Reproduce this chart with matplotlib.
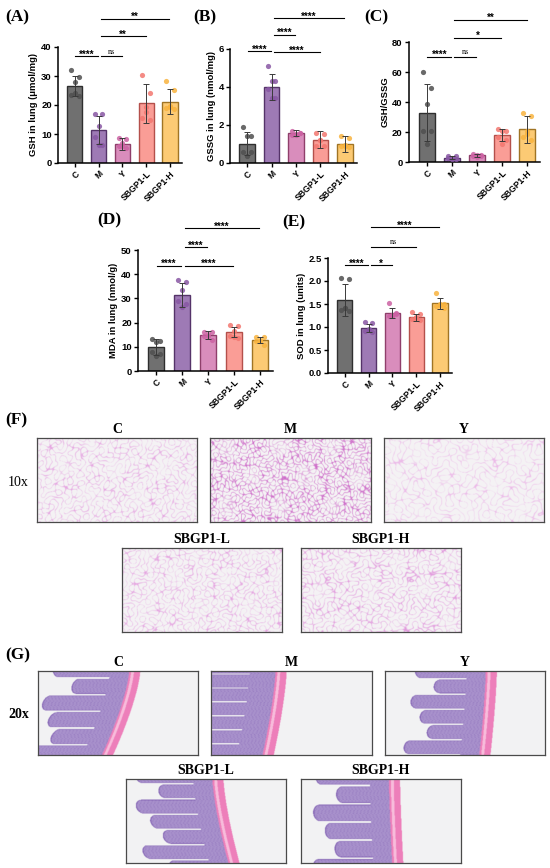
import numpy as np
import matplotlib.pyplot as plt

W, H = 550, 868
fig = plt.figure(figsize=(5.5, 8.68), dpi=100)
SANS = ['Liberation Sans', 'DejaVu Sans']
SERIF = ['Liberation Serif', 'DejaVu Serif']

# ---- Data ----
groups = ['C', 'M', 'Y', 'SBGP1-L', 'SBGP1-H']

gsh_mean = [26.5, 11.4, 6.6, 20.6, 21.1]
gsh_sd = [3.5, 4.9, 2.0, 6.8, 4.3]
gsh_pts = [[32.0, 29.7, 28.0, 23.4, 23.0, 24.0],
           [16.8, 16.8, 12.6, 9.0, 6.3, 6.3],
           [8.6, 8.4, 6.8, 5.7, 5.2, 5.8],
           [30.3, 24.0, 17.7, 15.4, 14.9, 19.4],
           [28.2, 25.0, 19.4, 19.0, 18.5, 19.5]]

gssg_mean = [1.02, 4.0, 1.58, 1.23, 1.0]
gssg_sd = [0.6, 0.7, 0.17, 0.44, 0.44]
gssg_pts = [[1.88, 1.4, 1.4, 0.6, 0.6, 0.35],
            [5.1, 4.3, 4.3, 3.9, 3.4, 3.4],
            [1.7, 1.6, 1.55, 1.5, 1.6, 1.45],
            [1.6, 1.55, 1.2, 0.9, 0.9, 1.2],
            [1.44, 1.3, 0.9, 0.88, 0.85, 0.95]]

ratio_mean = [33.0, 2.9, 4.4, 17.8, 21.8]
ratio_sd = [19.0, 1.0, 1.0, 4.0, 9.0]
ratio_pts = [[60.0, 49.5, 38.4, 20.7, 20.7, 12.2],
             [4.2, 3.8, 3.0, 2.5, 2.0, 2.2],
             [5.2, 5.0, 4.6, 4.2, 3.8, 3.6],
             [21.8, 21.0, 21.0, 17.0, 14.4, 12.0],
             [33.0, 31.0, 21.0, 16.7, 15.0, 19.0]]

mda_mean = [10.0, 31.4, 14.9, 16.0, 12.8]
mda_sd = [3.2, 5.1, 1.6, 2.0, 1.4]
mda_pts = [[13.2, 12.2, 11.8, 8.0, 6.9, 6.2],
           [37.6, 36.6, 33.5, 29.0, 27.5, 26.6],
           [16.3, 16.1, 15.2, 14.5, 12.8, 14.3],
           [19.0, 18.6, 16.5, 14.5, 13.8, 14.2],
           [14.2, 13.9, 13.0, 12.4, 10.7, 12.5]]

sod_mean = [1.59, 0.98, 1.30, 1.21, 1.52]
sod_sd = [0.34, 0.09, 0.11, 0.07, 0.12]
sod_pts = [[2.07, 2.05, 1.41, 1.38, 1.34, 1.42],
           [1.10, 1.09, 0.95, 0.92, 0.90, 0.93],
           [1.52, 1.30, 1.26, 1.24, 1.28, 1.25],
           [1.33, 1.28, 1.22, 1.18, 1.16, 1.20],
           [1.75, 1.50, 1.48, 1.46, 1.42, 1.50]]

# significance: (group i, group j, height, label)
gsh_sig = [(0, 1, 36.8, '****'), (1, 2, 36.8, 'ns'), (1, 3, 43.7, '**'), (1, 4, 49.7, '**')]
gssg_sig = [(0, 1, 5.88, '****'), (1, 2, 6.75, '****'), (1, 3, 5.82, '****'), (1, 4, 7.63, '****')]
ratio_sig = [(0, 1, 70, '****'), (1, 2, 70, 'ns'), (1, 3, 83, '*'), (1, 4, 95, '**')]
mda_sig = [(0, 1, 43.5, '****'), (1, 2, 51.1, '****'), (1, 3, 43.5, '****'), (1, 4, 59, '****')]
sod_sig = [(0, 1, 2.34, '****'), (1, 2, 2.34, '*'), (1, 3, 2.74, 'ns'), (1, 4, 3.17, '****')]

face_colors = ['#707070', '#9e7ab5', '#d98dbc', '#fa9d96', '#fcca74']
edge_colors = ['#2e2e2e', '#553369', '#8f3f6b', '#b4504b', '#a07424']
dot_colors = ['#4f4f4f', '#8857a4', '#cc62a3', '#f37770', '#f8b33e']
jitter = [-0.16, 0.16, 0.0, -0.16, 0.16, 0.0]


def px_axes(x0, y0, x1, y1):
    return fig.add_axes([x0 / W, 1 - y1 / H, (x1 - x0) / W, (y1 - y0) / H])


def bar_panel(box, means, sds, pts, sigs, ymax, ystep, ylabel, fmt='{:g}'):
    ax = px_axes(*box)
    x = np.arange(len(groups))
    ax.bar(x, means, width=0.64, color=face_colors, edgecolor=edge_colors,
           linewidth=1.0, zorder=1)
    for i, p in enumerate(pts):
        ax.scatter(x[i] + np.array(jitter[:len(p)]), p, s=14, color=dot_colors[i],
                   alpha=0.85, linewidths=0, zorder=3)
    ax.errorbar(x, means, yerr=sds, fmt='none', ecolor='#3a3a3a', elinewidth=0.7,
                capsize=2.5, capthick=0.7, zorder=4)
    ax.set_xlim(-0.7, 4.5)
    ax.set_ylim(0, ymax)
    ticks = np.arange(0, ymax + ystep / 2, ystep)
    ax.set_yticks(ticks)
    ax.set_yticklabels([fmt.format(t) for t in ticks], family=SANS,
                       fontweight='bold', fontsize=6.8)
    ax.set_xticks(x)
    ax.set_xticklabels(groups, rotation=45, ha='right', rotation_mode='anchor',
                       family=SANS, fontweight='bold', fontsize=6.2)
    ax.set_ylabel(ylabel, family=SANS, fontweight='bold', fontsize=6.8, labelpad=2)
    for s in ['top', 'right']:
        ax.spines[s].set_visible(False)
    for s in ['left', 'bottom']:
        ax.spines[s].set_linewidth(1.1)
    ax.tick_params(width=1.0, length=3, pad=1.5)
    for i, j, yy, lab in sigs:
        x0 = i + (0.1 if i == 1 else 0.03)
        x1 = j - 0.03
        ax.plot([x0, x1], [yy, yy], color='black', lw=0.8, clip_on=False, zorder=5)
        if lab == 'ns':
            ax.annotate(lab, ((x0 + x1) / 2, yy), xytext=(0, 0.5), textcoords='offset points',
                        ha='center', va='bottom', fontsize=5.8, family=SERIF,
                        annotation_clip=False)
        else:
            ax.annotate(lab, ((x0 + x1) / 2, yy), xytext=(0, -2.4), textcoords='offset points',
                        ha='center', va='bottom', fontsize=7, family=SANS,
                        fontweight='bold', annotation_clip=False)
    return ax


bar_panel((58, 47, 182, 163), gsh_mean, gsh_sd, gsh_pts, gsh_sig, 40, 10,
          'GSH in lung (μmol/mg)')
bar_panel((230, 49, 357, 163), gssg_mean, gssg_sd, gssg_pts, gssg_sig, 6, 2,
          'GSSG in lung (nmol/mg)')
bar_panel((409, 42, 540, 162), ratio_mean, ratio_sd, ratio_pts, ratio_sig, 80, 20,
          'GSH/GSSG')
bar_panel((138, 250, 273, 371), mda_mean, mda_sd, mda_pts, mda_sig, 50, 10,
          'MDA in lung (nmol/g)')
bar_panel((328, 258, 452, 373), sod_mean, sod_sd, sod_pts, sod_sig, 2.5, 0.5,
          'SOD in lung (units)', fmt='{:.1f}')

# panel letters
letters = [('(A)', 5, 17), ('(B)', 193, 17), ('(C)', 364, 17), ('(D)', 97, 220),
           ('(E)', 282, 222), ('(F)', 5, 420), ('(G)', 5, 655)]
for lab, lx, ly in letters:
    fig.text(lx / W, 1 - ly / H, lab, family=SERIF, fontweight='bold', fontsize=12.5,
             va='center', ha='left')


# ---- Histology placeholders (drawn textures) ----
def lung_texture(freq, width, line_rgb, strength, phase):
    h, w = 168, 320
    yy, xx = np.mgrid[0:h, 0:w] / float(w)
    f = np.zeros_like(xx)
    for k in range(9):
        ang = k * 2.39996 + phase
        fk = freq * (0.75 + 0.5 * ((k * 0.618 + phase) % 1))
        f += np.cos(2 * np.pi * fk * (xx * np.cos(ang) + yy * np.sin(ang)) + 1.7 * k + phase)
    m = np.exp(-(f / width) ** 2)
    # larger air spaces carry fewer walls
    big = np.cos(2 * np.pi * 3.1 * xx + phase) * np.cos(2 * np.pi * 2.7 * yy + 2 * phase)
    m = m * (0.6 + 0.4 * (big < 0.5))
    bg = np.array([0.958, 0.95, 0.958])
    col = np.array(line_rgb)
    a = np.clip(m * strength, 0, 1)[..., None]
    return bg * (1 - a) + col * a


def intestine_texture(x_top, x_bot, mucosa, vlen, n_villi, phase):
    h, w = 168, 320
    v, u = np.mgrid[0:h, 0:w].astype(float)
    v /= (h - 1)
    u /= (w - 1)
    xb = x_top + (x_bot - x_top) * v ** 1.4
    bg = np.array([0.95, 0.95, 0.955])
    purple = np.array([0.66, 0.57, 0.80])
    dpurple = np.array([0.54, 0.42, 0.72])
    pink = np.array([0.93, 0.50, 0.73])
    lpink = np.array([0.97, 0.74, 0.86])
    img = np.ones((h, w, 3)) * bg
    ph = n_villi * v + phase
    idx = np.floor(ph + 0.5)
    p = ph - idx                       # -0.5 .. 0.5 across one villus
    half = 0.45
    inside = np.abs(p) < half
    rr = np.sqrt(np.clip(1 - (p / half) ** 2, 0, 1))
    length = vlen * (0.78 + 0.22 * np.cos(2.3 * idx + 1.0))
    tip = xb - mucosa - length + 0.04 * (1 - rr)
    villi = inside & (u >= tip) & (u < xb - mucosa)
    outline = villi & ((u < tip + 0.008) | (np.abs(p) > half - 0.035))
    muc = (u >= xb - mucosa) & (u < xb)
    cell = np.sin(2 * np.pi * 45 * u + 3 * np.sin(2 * np.pi * 9 * v)) * np.sin(2 * np.pi * 30 * v)
    tissue = villi | muc
    img[tissue] = purple
    img[tissue & (cell > 0.5)] = dpurple * 0.6 + purple * 0.4
    img[outline] = dpurple
    band = (u >= xb) & (u < xb + 0.07)
    img[band] = pink
    inner = (u >= xb + 0.012) & (u < xb + 0.03)
    img[inner] = lpink
    return img


def image_panel(box, img, title):
    ax = px_axes(*box)
    ax.imshow(img, aspect='auto', interpolation='bilinear')
    ax.set_xticks([])
    ax.set_yticks([])
    for s in ax.spines.values():
        s.set_color('#4a4a4a')
        s.set_linewidth(0.9)
    ax.text(0.5, 1.02, title, transform=ax.transAxes, ha='center', va='bottom',
            family=SERIF, fontweight='bold', fontsize=10)
    return ax


lung_boxes = [(37, 438, 197, 522), (210, 438, 371, 522), (384, 438, 544, 522),
              (122, 548, 282, 632), (301, 548, 461, 632)]
lung_imgs = [lung_texture(20, 0.42, (0.88, 0.56, 0.86), 0.8, 0.0),
             lung_texture(26, 0.70, (0.80, 0.40, 0.78), 0.95, 1.1),
             lung_texture(17, 0.36, (0.91, 0.63, 0.89), 0.7, 2.3),
             lung_texture(21, 0.45, (0.88, 0.56, 0.86), 0.8, 3.1),
             lung_texture(20, 0.48, (0.87, 0.54, 0.85), 0.85, 4.0)]
for b, im, t in zip(lung_boxes, lung_imgs, groups):
    image_panel(b, im, t)

gut_boxes = [(38, 671, 198, 755), (211, 671, 372, 755), (385, 671, 545, 755),
             (126, 779, 286, 863), (301, 779, 461, 863)]
gut_imgs = [intestine_texture(0.57, 0.40, 0.12, 0.40, 5.0, 0.1),
            intestine_texture(0.40, 0.32, 0.16, 0.60, 6.0, 0.3),
            intestine_texture(0.63, 0.59, 0.12, 0.36, 5.5, 0.0),
            intestine_texture(0.54, 0.64, 0.12, 0.40, 5.5, 0.2),
            intestine_texture(0.55, 0.57, 0.12, 0.38, 4.6, 0.15)]
for b, im, t in zip(gut_boxes, gut_imgs, groups):
    image_panel(b, im, t)

fig.text(8 / W, 1 - 482 / H, '10x', family=SERIF, fontsize=10, va='center', ha='left')
fig.text(8 / W, 1 - 715 / H, '20x', family=SERIF, fontweight='bold', fontsize=10,
         va='center', ha='left')

fig.savefig('out.png', dpi=100, facecolor='white')
